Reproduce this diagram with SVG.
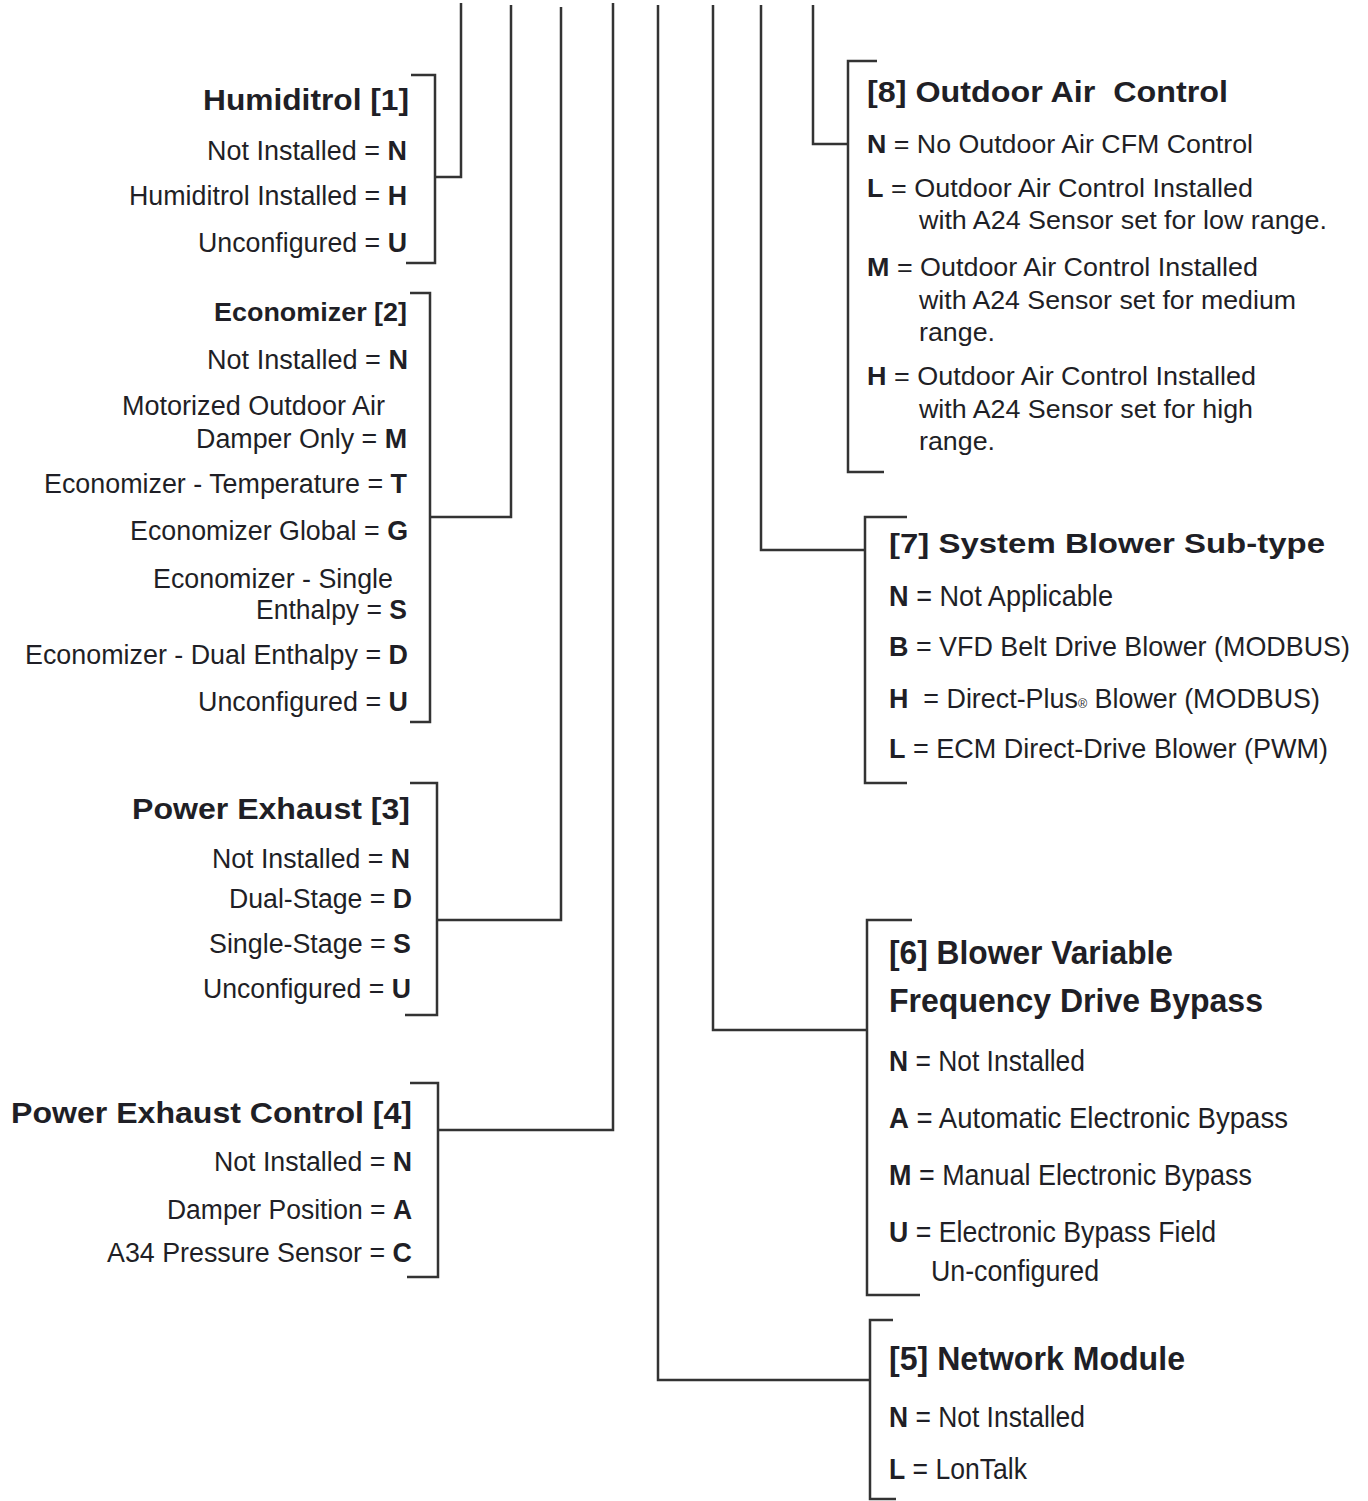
<svg xmlns="http://www.w3.org/2000/svg" width="1368" height="1501" viewBox="0 0 1368 1501">
<style>
.t{font-family:"Liberation Sans",Arial,sans-serif;fill:#1f1f26;}
.b{font-weight:bold;}
.e{text-anchor:end;}
.ln{fill:none;stroke:#333;stroke-width:2.5;}
.p{white-space:pre;}
</style>
<rect width="1368" height="1501" fill="#fff"/>
<g id="connectors">
<path class="ln" d="M461 3 V177 H435"/>
<path class="ln" d="M511 5 V517 H430"/>
<path class="ln" d="M561 7 V920 H437"/>
<path class="ln" d="M613 3 V1130 H438"/>
<path class="ln" d="M658 5 V1380 H870"/>
<path class="ln" d="M713 5 V1030 H867"/>
<path class="ln" d="M761 5 V550 H865"/>
<path class="ln" d="M813 5 V144 H848"/>
</g>
<g id="humiditrol">
<path class="ln" d="M411 75 H435 V263 H406"/>
<text class="t b e" x="409" y="110" font-size="30" textLength="206" lengthAdjust="spacingAndGlyphs">Humiditrol [1]</text>
<text class="t e" x="407" y="160" font-size="27" textLength="200" lengthAdjust="spacingAndGlyphs">Not Installed = <tspan class="b">N</tspan></text>
<text class="t e" x="407" y="205" font-size="27" textLength="278" lengthAdjust="spacingAndGlyphs">Humiditrol Installed = <tspan class="b">H</tspan></text>
<text class="t e" x="407" y="252" font-size="27" textLength="209" lengthAdjust="spacingAndGlyphs">Unconfigured = <tspan class="b">U</tspan></text>
</g>
<g id="economizer">
<path class="ln" d="M410 293 H430 V722 H410"/>
<text class="t b e" x="407" y="321" font-size="26" textLength="193" lengthAdjust="spacingAndGlyphs">Economizer [2]</text>
<text class="t e" x="408" y="369" font-size="27" textLength="201" lengthAdjust="spacingAndGlyphs">Not Installed = <tspan class="b">N</tspan></text>
<text class="t e" x="385" y="415" font-size="27" textLength="263" lengthAdjust="spacingAndGlyphs">Motorized Outdoor Air</text>
<text class="t e" x="407" y="448" font-size="27" textLength="211" lengthAdjust="spacingAndGlyphs">Damper Only = <tspan class="b">M</tspan></text>
<text class="t e" x="407" y="493" font-size="27" textLength="363" lengthAdjust="spacingAndGlyphs">Economizer - Temperature = <tspan class="b">T</tspan></text>
<text class="t e" x="408" y="540" font-size="27" textLength="278" lengthAdjust="spacingAndGlyphs">Economizer Global = <tspan class="b">G</tspan></text>
<text class="t e" x="393" y="588" font-size="27" textLength="240" lengthAdjust="spacingAndGlyphs">Economizer - Single</text>
<text class="t e" x="407" y="619" font-size="27" textLength="151" lengthAdjust="spacingAndGlyphs">Enthalpy = <tspan class="b">S</tspan></text>
<text class="t e" x="408" y="664" font-size="27" textLength="383" lengthAdjust="spacingAndGlyphs">Economizer - Dual Enthalpy = <tspan class="b">D</tspan></text>
<text class="t e" x="408" y="711" font-size="27" textLength="210" lengthAdjust="spacingAndGlyphs">Unconfigured = <tspan class="b">U</tspan></text>
</g>
<g id="power-exhaust">
<path class="ln" d="M410 783 H437 V1015 H405"/>
<text class="t b e" x="410" y="819" font-size="30" textLength="278" lengthAdjust="spacingAndGlyphs">Power Exhaust [3]</text>
<text class="t e" x="410" y="868" font-size="27" textLength="198" lengthAdjust="spacingAndGlyphs">Not Installed = <tspan class="b">N</tspan></text>
<text class="t e" x="412" y="908" font-size="27" textLength="183" lengthAdjust="spacingAndGlyphs">Dual-Stage = <tspan class="b">D</tspan></text>
<text class="t e" x="411" y="953" font-size="27" textLength="202" lengthAdjust="spacingAndGlyphs">Single-Stage = <tspan class="b">S</tspan></text>
<text class="t e" x="411" y="998" font-size="27" textLength="208" lengthAdjust="spacingAndGlyphs">Unconfigured = <tspan class="b">U</tspan></text>
</g>
<g id="power-exhaust-control">
<path class="ln" d="M410 1083 H438 V1277 H407"/>
<text class="t b e" x="412" y="1123" font-size="30" textLength="401" lengthAdjust="spacingAndGlyphs">Power Exhaust Control [4]</text>
<text class="t e" x="412" y="1171" font-size="27" textLength="198" lengthAdjust="spacingAndGlyphs">Not Installed = <tspan class="b">N</tspan></text>
<text class="t e" x="412" y="1219" font-size="27" textLength="245" lengthAdjust="spacingAndGlyphs">Damper Position = <tspan class="b">A</tspan></text>
<text class="t e" x="412" y="1262" font-size="27" textLength="305" lengthAdjust="spacingAndGlyphs">A34 Pressure Sensor = <tspan class="b">C</tspan></text>
</g>
<g id="outdoor-air-control">
<path class="ln" d="M877 61 H848 V472 H884"/>
<text class="t b p" x="867" y="102" font-size="29" textLength="361" lengthAdjust="spacingAndGlyphs">[8] Outdoor Air  Control</text>
<text class="t" x="867" y="153" font-size="26" textLength="386" lengthAdjust="spacingAndGlyphs"><tspan class="b">N</tspan> = No Outdoor Air CFM Control</text>
<text class="t" x="867" y="197" font-size="26" textLength="386" lengthAdjust="spacingAndGlyphs"><tspan class="b">L</tspan> = Outdoor Air Control Installed</text>
<text class="t" x="919" y="229" font-size="26" textLength="408" lengthAdjust="spacingAndGlyphs">with A24 Sensor set for low range.</text>
<text class="t" x="867" y="276" font-size="26" textLength="391" lengthAdjust="spacingAndGlyphs"><tspan class="b">M</tspan> = Outdoor Air Control Installed</text>
<text class="t" x="919" y="309" font-size="26" textLength="377" lengthAdjust="spacingAndGlyphs">with A24 Sensor set for medium</text>
<text class="t" x="919" y="341" font-size="26" textLength="76" lengthAdjust="spacingAndGlyphs">range.</text>
<text class="t" x="867" y="385" font-size="26" textLength="389" lengthAdjust="spacingAndGlyphs"><tspan class="b">H</tspan> = Outdoor Air Control Installed</text>
<text class="t" x="919" y="418" font-size="26" textLength="334" lengthAdjust="spacingAndGlyphs">with A24 Sensor set for high</text>
<text class="t" x="919" y="450" font-size="26" textLength="76" lengthAdjust="spacingAndGlyphs">range.</text>
</g>
<g id="system-blower-subtype">
<path class="ln" d="M907 517 H865 V783 H907"/>
<text class="t b" x="889" y="553" font-size="28" textLength="436" lengthAdjust="spacingAndGlyphs">[7] System Blower Sub-type</text>
<text class="t" x="889" y="606" font-size="29" textLength="224" lengthAdjust="spacingAndGlyphs"><tspan class="b">N</tspan> = Not Applicable</text>
<text class="t" x="889" y="656" font-size="27.5" textLength="461" lengthAdjust="spacingAndGlyphs"><tspan class="b">B</tspan> = VFD Belt Drive Blower (MODBUS)</text>
<text class="t p" x="889" y="708" font-size="28" textLength="431" lengthAdjust="spacingAndGlyphs"><tspan class="b">H</tspan>  = Direct-Plus<tspan font-size="13">®</tspan> Blower (MODBUS)</text>
<text class="t" x="889" y="758" font-size="28" textLength="439" lengthAdjust="spacingAndGlyphs"><tspan class="b">L</tspan> = ECM Direct-Drive Blower (PWM)</text>
</g>
<g id="blower-vfd-bypass">
<path class="ln" d="M912 920 H867 V1295 H920"/>
<text class="t b" x="889" y="964" font-size="33" textLength="284" lengthAdjust="spacingAndGlyphs">[6] Blower Variable</text>
<text class="t b" x="889" y="1012" font-size="33" textLength="374" lengthAdjust="spacingAndGlyphs">Frequency Drive Bypass</text>
<text class="t" x="889" y="1071" font-size="30" textLength="196" lengthAdjust="spacingAndGlyphs"><tspan class="b">N</tspan> = Not Installed</text>
<text class="t" x="889" y="1128" font-size="30" textLength="399" lengthAdjust="spacingAndGlyphs"><tspan class="b">A</tspan> = Automatic Electronic Bypass</text>
<text class="t" x="889" y="1185" font-size="30" textLength="363" lengthAdjust="spacingAndGlyphs"><tspan class="b">M</tspan> = Manual Electronic Bypass</text>
<text class="t" x="889" y="1242" font-size="30" textLength="327" lengthAdjust="spacingAndGlyphs"><tspan class="b">U</tspan> = Electronic Bypass Field</text>
<text class="t" x="931" y="1281" font-size="30" textLength="168" lengthAdjust="spacingAndGlyphs">Un-configured</text>
</g>
<g id="network-module">
<path class="ln" d="M893 1320 H870 V1499 H896"/>
<text class="t b" x="889" y="1370" font-size="33" textLength="296" lengthAdjust="spacingAndGlyphs">[5] Network Module</text>
<text class="t" x="889" y="1427" font-size="30" textLength="196" lengthAdjust="spacingAndGlyphs"><tspan class="b">N</tspan> = Not Installed</text>
<text class="t" x="889" y="1479" font-size="30" textLength="138" lengthAdjust="spacingAndGlyphs"><tspan class="b">L</tspan> = LonTalk</text>
</g>
</svg>
